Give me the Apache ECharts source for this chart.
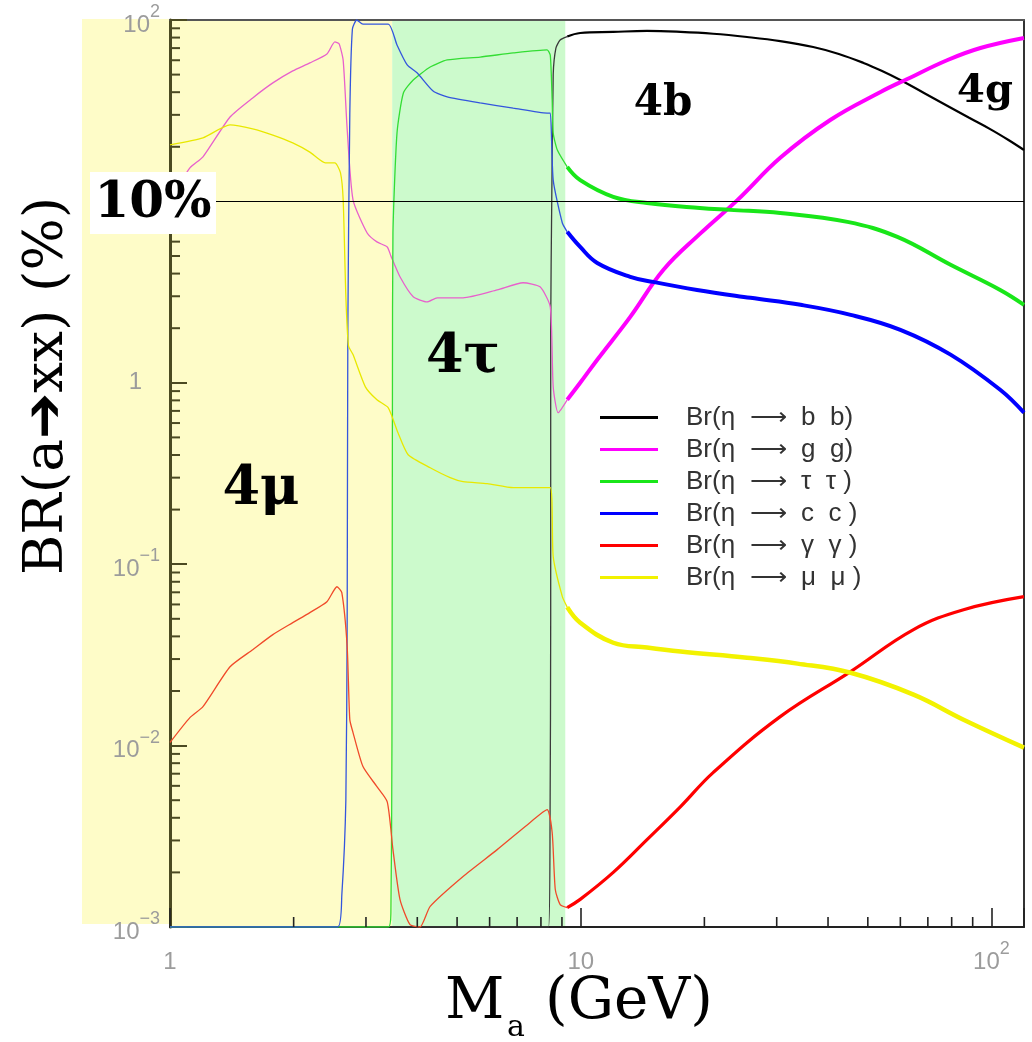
<!DOCTYPE html>
<html><head><meta charset="utf-8">
<script src="https://cdn.jsdelivr.net/npm/echarts@6/dist/echarts.min.js"></script>
<style>html,body{margin:0;padding:0;background:#fff}#c{width:1032px;height:1042px}</style>
</head><body><div id="c"></div>
<script>
// ---- data (M_a in GeV, BR in %) ----
const bbLow = [[1,0.001],[3.4,0.001],[8.35,0.001],[8.42,0.004],[8.45,0.05],[8.45,2],[8.5,10],[8.57,50],[8.7,70],[8.91,77.6],[9.27,81]];
const bbHigh = [[9.27,81],[9.97,84.8],[12.0,86],[14.5,87],[17.5,86],[21.0,84],[25.4,80.6],[30.6,76.5],[36.8,71],[42.5,65],[48.8,58],[54.0,52.5],[60,46.7],[68.5,39.6],[78.2,33.6],[88,29.0],[100,24.8],[110,21.8],[120,19.2]];
const ggLow = [[1,10.2],[1.118,15.3],[1.203,17.6],[1.40,29.2],[1.59,37.2],[1.78,45],[1.99,52.4],[2.19,58],[2.41,65],[2.52,75.7],[2.58,74],[2.64,60],[2.70,25],[2.79,10.2],[3.02,6.7],[3.19,5.98],[3.38,5.61],[3.45,5.0],[3.63,3.84],[3.91,2.98],[4.23,2.79],[4.47,2.94],[5.17,2.94],[6.26,3.25],[7.24,3.56],[7.96,3.38],[8.43,2.62],[8.57,0.95],[8.81,0.684],[9.27,0.806]];
const ggHigh = [[9.27,0.806],[9.97,1.0],[10.97,1.34],[13.2,2.31],[15.9,4.2],[19.5,6.62],[24.1,10.2],[30.6,17.4],[40.5,28.1],[53.7,40.1],[62.4,47.3],[78.2,60.2],[94,70.1],[120,79.6]];
const ttLow = [[1,0.001],[3.40,0.001],[3.45,0.0012],[3.47,0.01],[3.48,1],[3.49,6.7],[3.57,23.8],[3.70,39.6],[3.91,46.7],[4.30,55.1],[4.73,60.2],[5.69,62.5],[6.85,65.8],[8.28,68.4],[8.43,64],[8.52,36.2],[8.57,23.8],[8.77,19.2],[9.27,15.5]];
const ttHigh = [[9.27,15.5],[9.97,13.1],[12.0,10.6],[14.5,9.8],[19.5,9.2],[23.1,8.98],[30.6,8.64],[44.6,7.71],[59.0,6.37],[79.5,4.47],[105,3.25],[120,2.69]];
const ccLow = [[1,0.001],[2.56,0.001],[2.62,0.0015],[2.68,0.005],[2.70,0.05],[2.71,2],[2.74,30],[2.78,89],[2.85,100],[2.95,95],[3.40,95],[3.57,72.8],[3.78,56.5],[4.0,51],[4.37,40.6],[4.73,37.7],[5.69,34.9],[6.85,32.7],[8.28,30.7],[8.43,30.7],[8.57,13.1],[9.02,7.6],[9.27,6.8]];
const ccHigh = [[9.27,6.8],[9.97,5.61],[10.97,4.58],[13.2,3.84],[15.0,3.6],[19.2,3.25],[25.9,2.94],[34.3,2.69],[45.4,2.37],[60,1.96],[79.5,1.43],[105,0.915],[120,0.684]];
const yyLow = [[1,0.0104],[1.118,0.01426],[1.203,0.0164],[1.40,0.0272],[1.59,0.0338],[1.78,0.0409],[1.99,0.0476],[2.19,0.0541],[2.41,0.0621],[2.55,0.0751],[2.62,0.0697],[2.70,0.0351],[2.74,0.0139],[2.79,0.0118],[2.95,0.00766],[3.19,0.00594],[3.38,0.0049],[3.49,0.00267],[3.63,0.00142],[3.84,0.00103],[4.06,0.001],[4.30,0.0013],[5.17,0.0019],[6.26,0.00267],[7.53,0.00377],[8.28,0.00444],[8.52,0.00332],[8.67,0.00161],[8.91,0.00133],[9.27,0.00128]];
const yyHigh = [[9.27,0.00128],[9.97,0.00142],[12.0,0.002],[14.5,0.00303],[17.5,0.00461],[21.0,0.0071],[30.6,0.01445],[45.4,0.0256],[64.6,0.0436],[85.5,0.0561],[120,0.0662]];
const mmLow = [[1,20.5],[1.203,22.4],[1.40,26.4],[1.59,25.1],[1.78,23.2],[1.99,21],[2.19,18.7],[2.39,16.3],[2.52,16.3],[2.60,14.4],[2.64,10.2],[2.68,3],[2.72,1.6],[2.79,1.43],[2.99,0.95],[3.19,0.806],[3.40,0.728],[3.59,0.53],[3.80,0.401],[4.30,0.34],[4.81,0.30],[5.17,0.285],[5.92,0.278],[6.85,0.264],[8.43,0.264],[8.57,0.110],[9.02,0.0662],[9.27,0.058]];
const mmHigh = [[9.27,0.058],[9.97,0.0476],[12.0,0.0369],[14.5,0.0347],[17.5,0.033],[25.4,0.0305],[33.7,0.0283],[45.4,0.0252],[64.6,0.0191],[85.5,0.0139],[120,0.00975]];

const seriesNames = ['Br(η  ⟶  b  b)','Br(η  ⟶  g  g)','Br(η  ⟶  τ  τ )','Br(η  ⟶  c  c )','Br(η  ⟶  γ  γ )','Br(η  ⟶  μ  μ )'];
const bandEdges = [1, 3.475, 9.17];          // 4μ region, 4τ region (GeV)
const refLine = 10;                           // 10 % line
const minorMult = [2,3,4,5,6,7,8,9];
const yDecades = [0.001,0.01,0.1,1,10];
const xDecades = [1,10];

// ---- build ----
const colors = ['#000000','#ff00ff','#19e619','#0000ff','#ff0000','#f2f200'];
const lowColors = ['#3a3a3a','#e860cc','#33dd33','#3355dd','#f04a2a','#e8e800'];
const highW = [2.2,4,4,4,3.2,4.5];
const lows = [bbLow,ggLow,ttLow,ccLow,yyLow,mmLow];
const highs = [bbHigh,ggHigh,ttHigh,ccHigh,yyHigh,mmHigh];

const series = [];
highs.forEach((d,i)=>series.push({type:'line',name:seriesNames[i],data:d,symbol:'none',showSymbol:false,smooth:0.4,
  lineStyle:{color:colors[i],width:highW[i]},itemStyle:{color:colors[i]},z:4,silent:true}));
lows.forEach((d,i)=>series.push({type:'line',name:seriesNames[i],data:d,symbol:'none',showSymbol:false,smooth:0.2,
  lineStyle:{color:lowColors[i],width:1.3},itemStyle:{color:colors[i]},z:4,silent:true}));

// background bands + 10% line
series.push({type:'line',name:'bands',data:[[1,0.001]],symbol:'none',lineStyle:{opacity:0},z:1,silent:true,
  markArea:{silent:true,data:[
    [{xAxis:bandEdges[0],itemStyle:{color:'#fefcc8'}},{xAxis:bandEdges[1]}],
    [{xAxis:bandEdges[1],itemStyle:{color:'#ccfacc'}},{xAxis:bandEdges[2]}]
  ]},
  markLine:{silent:true,symbol:'none',label:{show:false},lineStyle:{color:'#000',width:1,type:'solid'},data:[{yAxis:refLine}]}
});

// minor ticks
const tickData = [];
yDecades.forEach(d=>minorMult.forEach(m=>tickData.push([1,d*m,0])));
xDecades.forEach(d=>minorMult.forEach(m=>tickData.push([d*m,0.001,1])));
series.push({type:'custom',name:'minorTicks',data:tickData,silent:true,clip:false,z:5,
  renderItem:function(params,api){
    const p = api.coord([api.value(0),api.value(1)]);
    if (api.value(2)===0) return {type:'line',shape:{x1:p[0],y1:p[1],x2:p[0]+10,y2:p[1]},style:{stroke:'#4b4a22',lineWidth:2}};
    return {type:'line',shape:{x1:p[0],y1:p[1],x2:p[0],y2:p[1]-10},style:{stroke:'#222',lineWidth:1.6}};
  }});

const lc = '#9c9c9c';
const rich = {
  b:{fontSize:24,color:lc,fontFamily:'Liberation Sans',lineHeight:34,verticalAlign:'bottom'},
  s:{fontSize:18,color:lc,fontFamily:'Liberation Sans',lineHeight:18,verticalAlign:'top'},
  one:{fontSize:24,color:lc,fontFamily:'Liberation Sans',lineHeight:34,padding:[0,18,0,0]}
};
function expOf(v){const e=Math.log10(v);const r=Math.round(e);return Math.abs(e-r)<1e-6?r:null;}
function fmtY(v){const e=expOf(v);if(e===null)return '';if(e===0)return '{one|1}';if(e===1)return '{b|10}';
  return '{b|10}{s|'+(e<0?'−'+(-e):e)+'}';}
function fmtX(v){const e=expOf(v);if(e===null)return '';if(e===0)return '{b|1}';if(e===1)return '{b|10}';return '{b|10}{s|'+e+'}';}

const chart = echarts.init(document.getElementById('c'));
chart.setOption({
  animation:false,
  backgroundColor:'#fff',
  grid:{left:170,right:8,top:20,bottom:115,containLabel:false},
  xAxis:[{type:'log',logBase:10,min:1,max:120,z:3,
    axisLine:{lineStyle:{color:'#222',width:2}},
    axisTick:{inside:true,length:19,lineStyle:{color:'#222',width:1.6}},
    axisLabel:{formatter:fmtX,rich:rich,margin:13,showMinLabel:true,showMaxLabel:true},
    splitLine:{show:false}},
   {type:'log',logBase:10,min:1,max:120,position:'top',z:3,
    axisLine:{show:true,lineStyle:{color:'#555',width:2}},axisTick:{show:false},axisLabel:{show:false},splitLine:{show:false}}],
  yAxis:[{type:'log',logBase:10,min:0.001,max:100,z:3,
    axisLine:{lineStyle:{color:'#4b4a22',width:3}},
    axisTick:{inside:true,length:17,lineStyle:{color:'#4b4a22',width:2}},
    axisLabel:{formatter:fmtY,margin:10,showMinLabel:true,showMaxLabel:true,rich:rich},
    splitLine:{show:false}},
   {type:'log',logBase:10,min:0.001,max:100,position:'right',z:3,
    axisLine:{show:true,lineStyle:{color:'#333',width:2}},axisTick:{show:false},axisLabel:{show:false},splitLine:{show:false}}],
  legend:{data:seriesNames,orient:'vertical',left:595,top:399,icon:'rect',itemWidth:58,itemHeight:3,itemGap:5,selectedMode:false,
    textStyle:{fontFamily:'Liberation Sans',fontSize:26,color:'#333',lineHeight:27,padding:[0,0,0,23]}},
  graphic:[
    {type:'rect',shape:{x:82,y:19,width:88,height:905},style:{fill:'#fefcc8'},z:-10,silent:true},
    {type:'rect',shape:{x:90,y:172,width:126,height:62},style:{fill:'#fff'},z:100,silent:true},
    {type:'text',x:153,y:204,z:101,silent:true,style:{text:'10%',font:'bold 50px "DejaVu Serif"',fill:'#000',align:'center',verticalAlign:'middle'}},
    {type:'text',x:261,y:490,z:101,silent:true,style:{text:'4μ',font:'bold 54px "DejaVu Serif"',fill:'#000',align:'center',verticalAlign:'middle'}},
    {type:'text',x:463,y:358,z:101,silent:true,style:{text:'4τ',font:'bold 54px "DejaVu Serif"',fill:'#000',align:'center',verticalAlign:'middle'}},
    {type:'text',x:663,y:104,z:101,silent:true,style:{text:'4b',font:'bold 42px "DejaVu Serif"',fill:'#000',align:'center',verticalAlign:'middle'}},
    {type:'text',x:985,y:92,z:101,silent:true,style:{text:'4g',font:'bold 40px "DejaVu Serif"',fill:'#000',align:'center',verticalAlign:'middle'}},
    {type:'text',x:48,y:386,rotation:Math.PI/2,z:101,silent:true,style:{text:'BR(a➔xx) (%)',font:'55px "DejaVu Serif"',fill:'#000',align:'center',verticalAlign:'middle'}},
    {type:'text',x:445,y:1003,z:101,silent:true,style:{text:'M',font:'58px "DejaVu Serif"',fill:'#000',align:'left',verticalAlign:'middle'}},
    {type:'text',x:507,y:1028,z:101,silent:true,style:{text:'a',font:'30px "DejaVu Serif"',fill:'#000',align:'left',verticalAlign:'middle'}},
    {type:'text',x:545,y:1003,z:101,silent:true,style:{text:'(GeV)',font:'58px "DejaVu Serif"',fill:'#000',align:'left',verticalAlign:'middle'}}
  ],
  series:series
});
</script></body></html>
